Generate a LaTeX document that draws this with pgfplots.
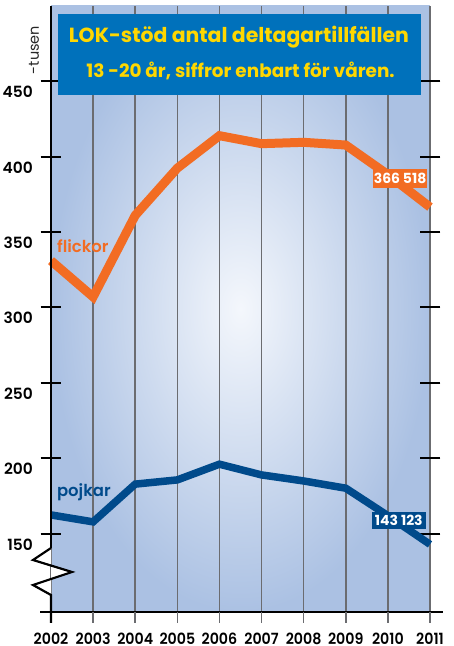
\documentclass[border=0pt]{standalone}
\usepackage{fontspec}
\setmainfont{Poppins}
\newfontfamily\popmed{Poppins Medium}
\newfontfamily\popsemi{Poppins SemiBold}
\newfontfamily\popsemin{Poppins SemiBold}[FakeStretch=0.92]
\usepackage{pgfplots}
\pgfplotsset{compat=1.18}
\definecolor{bgout}{HTML}{ABC1E3}
\definecolor{bgin}{HTML}{F4F7FC}
\definecolor{gridc}{HTML}{6B6C70}
\definecolor{orangeL}{HTML}{F26C23}
\definecolor{blueL}{HTML}{004A8B}
\definecolor{titlebg}{HTML}{0071BB}
\definecolor{titlefg}{HTML}{FFD700}
\begin{document}
\begin{tikzpicture}
\useasboundingbox (0,0) rectangle (454bp,646bp);
\begin{axis}[
  at={(51bp,34bp)}, anchor=south west,
  scale only axis, width=379bp, height=606bp,
  xmin=2002, xmax=2011, ymin=98.3, ymax=499.7,
  clip=false,
  axis line style={draw=none},
  axis background/.style={inner color=bgin, outer color=bgout},
  xtick={2002,2003,2004,2005,2006,2007,2008,2009,2010,2011},
  xticklabels={2002,2003,2004,2005,2006,2007,2008,2009,2010,2011},
  xtick style={draw=none},
  xmajorgrids=true,
  major grid style={gridc, line width=1.6bp},
  xticklabel style={anchor=base, yshift=-21.5bp, inner sep=0pt, font=\popsemin\fontsize{15.5}{16}\selectfont},
  ytick={150,200,250,300,350,400,450},
  yticklabels={150,200,250,300,350,400,450},
  yticklabel style={anchor=base east, xshift=-7.5bp, yshift=-16.5bp, inner sep=0pt, font=\popsemi\fontsize{15.5}{16}\selectfont},
  tick align=center, major tick length=21bp,
  ytick style={black, line width=2bp},
]
\addplot[orangeL, line width=9bp, line join=miter] coordinates {
 (2002,331) (2003,307) (2004,361) (2005,392.3) (2006,413.8) (2007,408.5) (2008,409.4) (2009,407.6) (2010,388) (2011,366.5)};
\addplot[blueL, line width=7.5bp, line join=miter] coordinates {
 (2002,162.6) (2003,158) (2004,183) (2005,185.8) (2006,196.2) (2007,189.1) (2008,185.1) (2009,180.3) (2010,162.1) (2011,143.1)};
\node[anchor=base west, inner sep=0pt, text=orangeL, font=\popsemi\fontsize{16.5}{17}\selectfont] at (axis cs:2002.14,336.1) {flickor};
\node[anchor=base west, inner sep=0pt, text=blueL, font=\popsemi\fontsize{16.5}{17}\selectfont] at (axis cs:2002.14,174.5) {pojkar};
\node[fill=orangeL, text=white, inner sep=0pt, minimum width=54bp, minimum height=19bp, font=\bfseries\fontsize{14}{14}\selectfont] at (axis cs:2010.29,385.4) {366 518};
\node[fill=blueL, text=white, inner sep=0pt, minimum width=54bp, minimum height=17bp, font=\bfseries\fontsize{14}{14}\selectfont] at (axis cs:2010.26,159.0) {143 123};
\end{axis}
% axes lines
\draw[black, line width=2.2bp] (51bp,640bp) -- (51bp,98bp);
\fill[white] (51bp,98bp) -- (33bp,86bp) -- (72bp,74bp) -- (33bp,61bp) -- (51bp,51bp) -- cycle;
\draw[black, line width=2.2bp, line join=miter] (51bp,98bp) -- (33bp,86bp) -- (72bp,74bp) -- (33bp,61bp) -- (51bp,51bp) -- (51bp,23bp);
\draw[black, line width=2.2bp] (40bp,34bp) -- (443bp,34bp);
\foreach \i in {1,...,9} {
  \pgfmathsetmacro\xx{51+\i*42.111}
  \draw[gridc, line width=1.6bp] (\xx bp,34bp) -- (\xx bp,23bp);
}
% title
\node[fill=titlebg, minimum width=363bp, minimum height=81bp, inner sep=0pt] at (239.5bp,591.5bp) {};
\node[anchor=base, inner sep=0pt, text=titlefg, font=\bfseries\fontsize{20.5}{21}\selectfont] at (239bp,603bp) {LOK-stöd antal deltagartillfällen};
\node[anchor=base, inner sep=0pt, text=titlefg, font=\bfseries\fontsize{18.5}{19}\selectfont] at (240.5bp,568bp) {13 -20 år, siffror enbart för våren.};
\node[rotate=90, inner sep=0pt, text=black!85, font=\fontsize{14.5}{15}\selectfont] at (34bp,596bp) {-tusen};
\end{tikzpicture}
\end{document}
